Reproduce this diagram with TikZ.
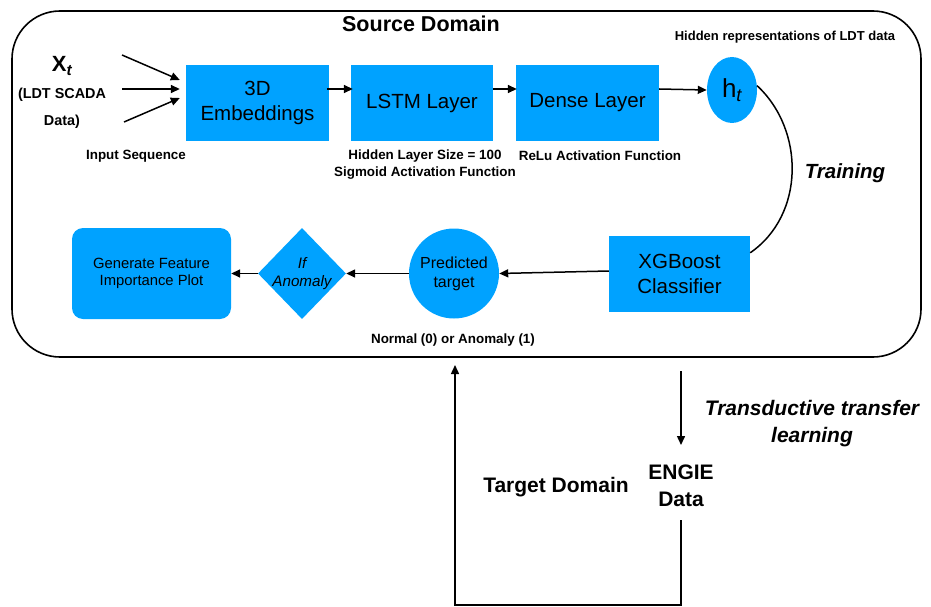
\documentclass[tikz,border=0pt]{standalone}
\usepackage{fontspec}
\setmainfont{Liberation Sans}
\usetikzlibrary{arrows.meta,shapes.geometric,calc}
\definecolor{boxblue}{RGB}{0,162,255}
\begin{document}
\begin{tikzpicture}[x=1pt,y=-1pt,
  arr/.style={-{Triangle[length=9pt,width=8pt]}, line width=1.5pt},
  ln/.style={line width=1.5pt},
  bluebox/.style={fill=boxblue, draw=none, inner sep=0pt, align=center,
    minimum height=76pt, font=\fontsize{20.5}{25}\selectfont},
  smalllbl/.style={font=\bfseries\fontsize{13.4}{17}\selectfont, align=center},
  biglbl/.style={font=\bfseries\fontsize{21}{27}\selectfont, align=center}]
\useasboundingbox (0,0) rectangle (931,607);

% frame of the source domain
\draw[line width=1.6pt, rounded corners=48pt] (12,11) rectangle (921,357);
\node[font=\bfseries\fontsize{21.5}{25}\selectfont] (src) at (421,24) {Source Domain};

% input
\node[font=\bfseries\fontsize{22}{25}\selectfont] (xt) at (62,66) {X\textsubscript{\itshape t}};
\node[font=\bfseries\fontsize{14.4}{17}\selectfont] (xt2) at (62,95) {(LDT SCADA};
\node[font=\bfseries\fontsize{14.4}{17}\selectfont] (xt3) at (62,122) {Data)};

% top row
\node[bluebox, minimum width=143pt] (emb) at (257.5,103) {3D\\Embeddings};
\node[bluebox, minimum width=142pt] (lstm) at (422,103) {LSTM Layer};
\node[bluebox, minimum width=143pt] (dense) at (587.5,103) {Dense Layer};
\node[ellipse, fill=boxblue, inner sep=0pt, minimum width=50pt, minimum height=66pt,
      font=\fontsize{26}{28}\selectfont] (ht) at (732,90) {h\textsubscript{\itshape t}};

\coordinate (i1) at (122,55);
\coordinate (i2) at (122,89);
\coordinate (i3) at (124,122);
\draw[arr] (i1) -- ([shift={(-6,-23)}]emb.west);
\draw[arr] (i2) -- ([shift={(-6,-14)}]emb.west);
\draw[arr] (i3) -- ([shift={(-6,-5)}]emb.west);
\draw[arr] ([shift={(-2,-14)}]emb.east) -- ([shift={(2,-14)}]lstm.west);
\draw[arr] ([shift={(0,-14)}]lstm.east) -- ([shift={(1,-14)}]dense.west);
\draw[arr] ([shift={(0,-14)}]dense.east) -- (ht.west);

% labels of top row
\node[smalllbl] (lblin) at (136,156) {Input Sequence};
\node[smalllbl] (lbllstm) at (425,164.5) {Hidden Layer Size = 100\\Sigmoid Activation Function};
\node[smalllbl] (lbldense) at (600,156) {ReLu Activation Function};
\node[font=\bfseries\fontsize{13}{16}\selectfont] (lblht) at (785,37) {Hidden representations of LDT data};

% bottom row
\node[bluebox, minimum width=141pt] (xgb) at (679.5,274) {XGBoost\\Classifier};
\node[circle, fill=boxblue, inner sep=0pt, minimum size=90pt, align=center,
      font=\fontsize{16}{19}\selectfont] (pred) at (454,273.5) {Predicted\\target};
\node[diamond, fill=boxblue, inner sep=0pt, minimum width=88pt, minimum height=91pt] (dia) at (302,273.5) {};
\node[font=\itshape\fontsize{15.2}{18}\selectfont, align=center] (diat) at (dia.center) {If\\Anomaly};
\node[fill=boxblue, rounded corners=11pt, inner sep=0pt, minimum width=159pt, minimum height=91pt,
      align=center, font=\fontsize{14.8}{17}\selectfont] (feat) at (151.5,273.5) {Generate Feature\\Importance Plot};

\draw[arr] ([yshift=3pt]xgb.west) -- (pred.east);
\draw[arr] (pred.west) -- (dia.east);
\draw[arr] (dia.west) -- (feat.east);

\node[smalllbl] (lblpred) at (453,340) {Normal (0) or Anomaly (1)};

% training curve
\draw[ln] (ht.10) .. controls (805,130) and (805,215) .. ([yshift=-17pt]xgb.north east);
\node[font=\bfseries\itshape\fontsize{20.5}{25}\selectfont] (train) at (845,173) {Training};

% target domain
\node[biglbl] (engie) at (681,486) {ENGIE\\Data};
\node[biglbl] (tgt) at (556,487) {Target Domain};
\node[font=\bfseries\itshape\fontsize{21}{27}\selectfont, align=center] (trans) at (812,423.5) {Transductive transfer\\learning};

\coordinate (ttop) at (681,371);
\coordinate (c1) at (681,605);
\coordinate (c2) at (455,605);
\coordinate (upend) at (455,365);
\draw[arr] (ttop) -- ($(engie.center)+(0,-41)$);
\draw[arr] ($(engie.center)+(0,34)$) -- (c1) -- (c2) -- (upend);
\end{tikzpicture}
\end{document}
